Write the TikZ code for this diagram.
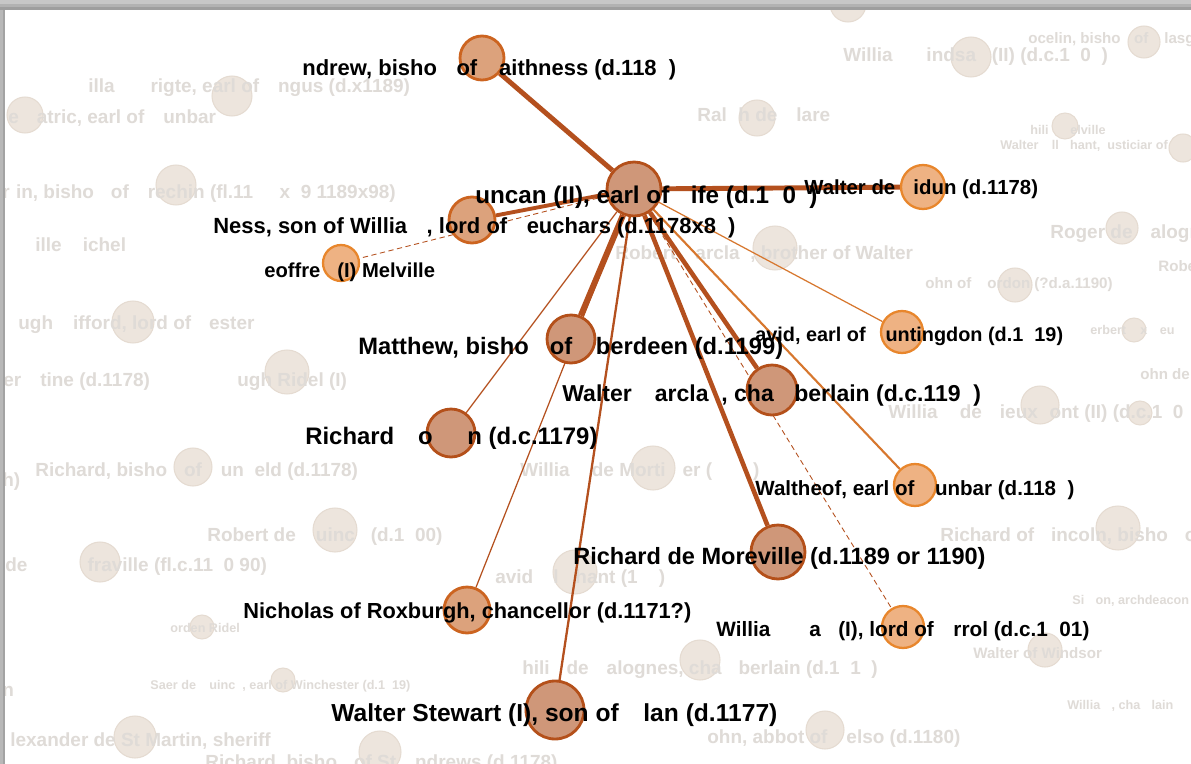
\documentclass[tikz,border=0pt]{standalone}
\usepackage{fontspec}
\setmainfont{Liberation Sans}
\usetikzlibrary{backgrounds}
\definecolor{netEdge}{HTML}{B4501E}
\definecolor{netEdgeLt}{HTML}{D7772E}
\definecolor{netDarkFill}{HTML}{CF9779}
\definecolor{netDarkLine}{HTML}{B4501A}
\definecolor{netMidFill}{HTML}{DCA27C}
\definecolor{netMidLine}{HTML}{CC6420}
\definecolor{netLtFill}{HTML}{EEB283}
\definecolor{netLtLine}{HTML}{E8862C}
\definecolor{netFaint}{HTML}{EDE5DD}
\definecolor{netFaintLine}{HTML}{E5DBD1}
\definecolor{netFaintText}{HTML}{DFDBD7}

\begin{document}
\begin{tikzpicture}[
  x=0.02cm, y=-0.02cm,
  person/.style={
    circle, inner sep=0pt, minimum size=#1*0.04cm, line width=1.6pt,
    draw=netDarkLine, fill=netDarkFill,
  },
  midperson/.style={person=#1, draw=netMidLine, fill=netMidFill},
  ltperson/.style={person=#1, line width=1.3pt, draw=netLtLine, fill=netLtFill},
  ghost/.style={
    circle, inner sep=0pt, minimum size=#1*0.04cm, line width=0.6pt,
    draw=netFaintLine, fill=netFaint,
  },
  lbl/.style={anchor=base west, inner sep=0pt, font=\bfseries\fontsize{#1}{#1}\selectfont},
  lbl/.default=12.7,
  ghostlbl/.style={anchor=base west, inner sep=0pt, text=netFaintText,
    font=\bfseries\fontsize{10.8}{12}\selectfont},
  smallghost/.style={ghostlbl, font=\bfseries\fontsize{8.6}{10}\selectfont},
  tinyghost/.style={ghostlbl, font=\bfseries\fontsize{7.2}{9}\selectfont},
  link/.style={draw=netEdge, line width=#1},
]
\useasboundingbox (0,0) rectangle (1191,764);

% People around Duncan
\node[person=27]     (duncan)    at (634,189) {};
\node[midperson=22]  (andrew)    at (482,58)  {};
\node[midperson=23]  (ness)      at (472,220) {};
\node[ltperson=18]   (geoffrey)  at (341,263) {};
\node[ltperson=22]   (lidun)     at (923,187) {};
\node[person=24]     (matthew)   at (571,339) {};
\node[ltperson=21]   (david)     at (902,332) {};
\node[person=25]     (barclay)   at (772,390) {};
\node[person=24]     (comyn)     at (451,433) {};
\node[ltperson=21]   (waltheof)  at (915,485) {};
\node[person=27]     (moreville) at (778,552) {};
\node[midperson=23]  (nicholas)  at (467,610) {};
\node[ltperson=21]   (hay)       at (903,627) {};
\node[person=29]     (stewart)   at (555,710) {};

\begin{pgfonlayer}{background}
% window frame
\fill[white] (0,0) rectangle (1191,764);

% faint people in the back
\foreach \gx/\gy/\gr [count=\i] in {
    232/96/20, 25/115/18, 176/185/20, 971/57/20, 1144/42/16, 757/118/18,
    1065/126/13, 1183/148/14, 1122/228/16, 775/248/22, 1015/285/17,
    1134/330/12, 133/322/21, 287/372/22, 1040/405/19, 1140/413/12,
    193/467/19, 653/468/22, 335/530/22, 1118/528/22, 100/562/20,
    575/572/22, 202/627/12, 1045/650/17, 700/660/20, 283/680/12,
    135/737/21, 380/752/21, 825/730/19, 848/4/18}
  \node[ghost=\gr] (g\i) at (\gx,\gy) {};

\node[ghostlbl]   (gl1)  at (88,92)    {illa\phantom{m} \phantom{B}rigte, earl of \phantom{A}ngus (d.x1189)};
\node[ghostlbl]   (gl2)  at (8,123)    {e \phantom{P}atric, earl of \phantom{D}unbar};
\node[ghostlbl]   (gl3)  at (2,198)    {r\phantom{t}in, bisho\phantom{p} of \phantom{B}rechin (fl.11\phantom{77} x\phantom{1}9 1189x98)};
\node[ghostlbl]   (gl4)  at (35,251)   {ille \phantom{M}ichel};
\node[ghostlbl]   (gl5)  at (18,329)   {ugh \phantom{G}ifford, lord of \phantom{Y}ester};
\node[ghostlbl]   (gl6)  at (3,386)    {er \phantom{C}tine (d.1178)};
\node[ghostlbl]   (gl7)  at (237,386)  {ugh Ridel (I)};
\node[ghostlbl]   (gl8)  at (35,476)   {Richard, bisho\phantom{p} of \phantom{D}un\phantom{k}eld (d.1178)};
\node[ghostlbl]   (gl9)  at (2,486)    {h)};
\node[ghostlbl]   (gl10) at (207,541)  {Robert de \phantom{Q}uinc\phantom{y} (d.1\phantom{2}00)};
\node[ghostlbl]   (gl11) at (5,571)    {de \phantom{Umfra}fraville (fl.c.11\phantom{6}0 90)};
\node[ghostlbl]   (gl12) at (495,583)  {avid \phantom{O}l\phantom{ip}hant (1\phantom{17})};
\node[tinyghost]  (gl13) at (170,632)  {orden Ridel};
\node[tinyghost]  (gl14) at (150,689)  {Saer de \phantom{Q}uinc\phantom{y}, earl of Winchester (d.1\phantom{2}19)};
\node[ghostlbl]   (gl15) at (2,696)    {n};
\node[ghostlbl]   (gl16) at (10,746)   {lexander de St Martin, sheriff};
\node[ghostlbl]   (gl17) at (205,768)  {Richard, bisho\phantom{p} of St \phantom{A}ndrews (d.1178)};
\node[ghostlbl]   (gl18) at (707,743)  {ohn, abbot of \phantom{K}elso (d.1180)};
\node[ghostlbl]   (gl19) at (522,674)  {hili\phantom{p} de \phantom{V}alognes, cha\phantom{m}berlain (d.1\phantom{2}1\phantom{5})};
\node[smallghost] (gl20) at (973,658)  {Walter of Windsor};
\node[tinyghost]  (gl21) at (1072,604) {Si\phantom{m}on, archdeacon};
\node[tinyghost]  (gl22) at (1067,709) {Willia\phantom{m}, cha\phantom{m}lain};
\node[ghostlbl]   (gl23) at (520,476)  {Willia\phantom{m} de Morti\phantom{m}er (\phantom{1175})};
\node[ghostlbl]   (gl24) at (940,541)  {Richard of \phantom{L}incoln, bisho\phantom{p} of \phantom{M}oray};
\node[ghostlbl]   (gl25) at (888,418)  {Willia\phantom{m} de \phantom{V}ieux\phantom{p}ont (II) (d.c.1\phantom{2}0\phantom{3})};
\node[smallghost] (gl26) at (1140,379) {ohn de};
\node[tinyghost]  (gl27) at (1090,334) {erbert \phantom{M}x \phantom{B}eu};
\node[smallghost] (gl28) at (925,288)  {ohn of \phantom{G}ordon (?d.a.1190)};
\node[smallghost] (gl29) at (1158,271) {Robe};
\node[ghostlbl]   (gl30) at (1050,238) {Roger de \phantom{V}alognes};
\node[ghostlbl]   (gl31) at (615,259)  {Robert \phantom{B}arcla\phantom{y}, brother of Walter};
\node[tinyghost]  (gl32) at (1000,149) {Walter \phantom{O}ll\phantom{ip}hant, \phantom{j}usticiar of};
\node[tinyghost]  (gl33) at (1030,134) {hili\phantom{p} \phantom{M}elville};
\node[ghostlbl]   (gl34) at (697,121)  {Ral\phantom{p}h de \phantom{C}lare};
\node[ghostlbl]   (gl35) at (843,61)   {Willia\phantom{m} \phantom{L}indsa\phantom{y} (II) (d.c.1\phantom{2}0\phantom{0})};
\node[smallghost] (gl36) at (1028,43)  {ocelin, bisho\phantom{p} of \phantom{G}lasgo};

% shadow of the window edge
\fill[black!22] (0,0) rectangle (1191,10);
\fill[black!30] (0,4) rectangle (1191,10);
\fill[black!38] (0,7) rectangle (1191,10);
\fill[black!28] (0,10) rectangle (5,764);
\fill[black!36] (3,10) rectangle (5,764);

% ties of Duncan
\draw[link=2.8pt] (duncan) -- (andrew);
\draw[link=2.8pt] (duncan) -- (lidun);
\draw[link=2.2pt] (duncan) -- (ness);
\draw[link=3.4pt] (duncan) -- (matthew);
\draw[link=2.6pt] (duncan) -- (barclay);
\draw[link=2.6pt] (duncan) -- (moreville);
\draw[link=1.2pt, draw=netEdgeLt] (duncan) -- (waltheof);
\draw[link=1.3pt] (duncan) -- (stewart);
\draw[link=0.7pt] (duncan) -- (nicholas);
\draw[link=0.7pt] (duncan) -- (comyn);
\draw[link=0.7pt, draw=netEdgeLt] (duncan) -- (david);
\draw[link=0.5pt, densely dashed] (duncan) -- (hay);
\draw[link=0.5pt, densely dashed] (duncan) -- (geoffrey);
\end{pgfonlayer}

% Names
\node[lbl=12.5] (andrew-l)    at (302,75)  {ndrew, bisho\phantom{p} of \phantom{C}aithness (d.118\phantom{4})};
\node[lbl=13.8] (duncan-l)    at (475,203) {uncan (II), earl of \phantom{F}ife (d.1\phantom{2}0\phantom{4})};
\node[lbl=12.5] (ness-l)      at (213,233) {Ness, son of Willia\phantom{m}, lord of \phantom{L}euchars (d.1178x8\phantom{9})};
\node[lbl=11.5] (geoffrey-l)  at (264,277) {eoffre\phantom{y} (I) Melville};
\node[lbl=11.6] (lidun-l)     at (804,194) {Walter de \phantom{L}idun (d.1178)};
\node[lbl=13.5] (matthew-l)   at (358,354) {Matthew, bisho\phantom{p} of \phantom{A}berdeen (d.1199)};
\node[lbl=11.3] (david-l)     at (755,341) {avid, earl of \phantom{H}untingdon (d.1\phantom{2}19)};
\node[lbl=13.1] (barclay-l)   at (562,401) {Walter \phantom{B}arcla\phantom{y}, cha\phantom{m}berlain (d.c.119\phantom{3})};
\node[lbl=13.6] (comyn-l)     at (305,444) {Richard \phantom{C}o\phantom{my}n (d.c.1179)};
\node[lbl=11.7] (waltheof-l)  at (755,495) {Waltheof, earl of \phantom{D}unbar (d.118\phantom{2})};
\node[lbl=13.4] (moreville-l) at (573,564) {Richard de Moreville (d.1189 or 1190)};
\node[lbl=12.4] (nicholas-l)  at (243,618) {Nicholas of Roxburgh, chancellor (d.1171?)};
\node[lbl=11.8] (hay-l)       at (716,636) {Willia\phantom{m} \phantom{H}a\phantom{y} (I), lord of \phantom{E}rrol (d.c.1\phantom{2}01)};
\node[lbl=14.0] (stewart-l)   at (331,721) {Walter Stewart (I), son of \phantom{A}lan (d.1177)};

\end{tikzpicture}
\end{document}
